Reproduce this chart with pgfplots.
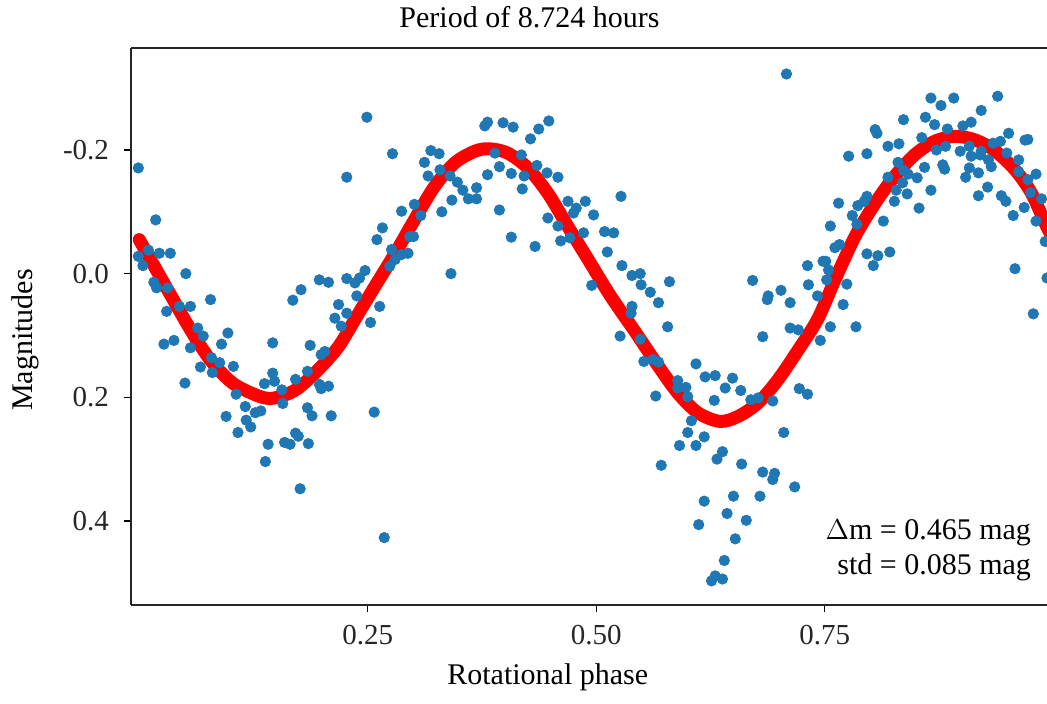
\documentclass[border=0pt]{standalone}
\usepackage{fontspec}
\setmainfont{Liberation Serif}
\usepackage{pgfplots}
\pgfplotsset{compat=1.18}
\usetikzlibrary{calc}
\definecolor{mplblue}{HTML}{1F77B4}
\pgfplotstableread{
x y
-0.001 -0.171
0.018 -0.087
0.227 -0.156
0.249 -0.253
-0.001 -0.028
0.004 -0.013
0.010 -0.038
0.022 -0.033
0.034 -0.033
0.051 0.000
0.016 0.014
0.019 0.023
0.031 0.023
0.030 0.061
0.044 0.053
0.056 0.053
0.078 0.042
0.064 0.088
0.097 0.096
0.168 0.043
0.177 0.026
0.197 0.010
0.207 0.014
0.227 0.008
0.236 0.015
0.241 0.007
0.247 -0.005
0.238 0.036
0.218 0.050
0.214 0.072
0.227 0.064
0.221 0.085
0.027 0.114
0.038 0.108
0.056 0.120
0.070 0.101
0.090 0.114
0.067 0.151
0.080 0.160
0.079 0.136
0.088 0.144
0.103 0.150
0.050 0.177
0.146 0.112
0.187 0.116
0.199 0.131
0.203 0.126
0.146 0.161
0.148 0.174
0.137 0.178
0.156 0.188
0.171 0.171
0.184 0.158
0.197 0.179
0.199 0.186
0.207 0.182
0.210 0.230
0.106 0.195
0.116 0.215
0.127 0.225
0.133 0.222
0.095 0.231
0.117 0.237
0.122 0.248
0.108 0.257
0.157 0.210
0.184 0.217
0.189 0.230
0.141 0.276
0.159 0.273
0.165 0.276
0.171 0.258
0.174 0.263
0.185 0.275
0.138 0.304
0.176 0.348
0.277 -0.194
0.319 -0.199
0.328 -0.194
0.312 -0.180
0.316 -0.158
0.329 -0.168
0.340 -0.158
0.348 -0.148
0.354 -0.135
0.360 -0.121
0.369 -0.121
0.369 -0.139
0.342 -0.119
0.331 -0.100
0.301 -0.112
0.308 -0.094
0.287 -0.101
0.266 -0.074
0.260 -0.055
0.296 -0.060
0.300 -0.060
0.294 -0.033
0.287 -0.031
0.276 -0.039
0.280 -0.023
0.274 -0.012
0.263 0.053
0.253 0.079
0.341 0.000
0.378 -0.239
0.381 -0.245
0.398 -0.244
0.409 -0.237
0.428 -0.218
0.437 -0.234
0.448 -0.247
0.389 -0.195
0.418 -0.192
0.381 -0.160
0.394 -0.173
0.407 -0.162
0.421 -0.158
0.419 -0.137
0.435 -0.175
0.446 -0.163
0.458 -0.156
0.394 -0.103
0.407 -0.059
0.433 -0.044
0.447 -0.090
0.458 -0.077
0.461 -0.053
0.471 -0.058
0.469 -0.117
0.478 -0.106
0.475 -0.098
0.488 -0.117
0.497 -0.095
0.486 -0.066
0.495 0.019
0.257 0.224
0.268 0.427
0.708 -0.323
0.527 -0.125
0.509 -0.068
0.519 -0.066
0.512 -0.035
0.528 -0.013
0.539 0.003
0.548 0.000
0.549 0.018
0.559 0.030
0.568 0.047
0.580 0.013
0.539 0.053
0.538 0.064
0.578 0.086
0.671 0.011
0.688 0.036
0.702 0.027
0.712 0.047
0.731 -0.013
0.732 0.018
0.742 0.036
0.748 -0.020
0.712 0.088
0.721 0.091
0.526 0.101
0.548 0.106
0.552 0.142
0.568 0.143
0.562 0.139
0.565 0.198
0.609 0.146
0.589 0.173
0.598 0.184
0.589 0.185
0.600 0.199
0.619 0.167
0.630 0.165
0.649 0.169
0.641 0.185
0.658 0.189
0.629 0.205
0.669 0.204
0.677 0.201
0.693 0.206
0.682 0.102
0.745 0.108
0.687 0.042
0.722 0.186
0.731 0.195
0.604 0.238
0.600 0.257
0.618 0.264
0.591 0.278
0.609 0.278
0.705 0.257
0.638 0.288
0.632 0.300
0.659 0.308
0.571 0.310
0.682 0.321
0.695 0.323
0.693 0.333
0.717 0.345
0.618 0.368
0.650 0.360
0.679 0.360
0.643 0.388
0.612 0.406
0.664 0.399
0.652 0.429
0.640 0.464
0.626 0.497
0.630 0.489
0.638 0.494
0.866 -0.284
0.877 -0.272
0.891 -0.284
0.939 -0.287
0.921 -0.264
0.836 -0.249
0.860 -0.253
0.870 -0.241
0.901 -0.239
0.910 -0.245
0.884 -0.234
0.951 -0.227
0.969 -0.216
0.972 -0.217
0.805 -0.233
0.807 -0.227
0.776 -0.190
0.796 -0.194
0.819 -0.206
0.831 -0.210
0.856 -0.220
0.872 -0.200
0.882 -0.206
0.898 -0.198
0.908 -0.206
0.921 -0.198
0.934 -0.211
0.942 -0.214
0.910 -0.190
0.920 -0.192
0.929 -0.184
0.932 -0.173
0.949 -0.195
0.962 -0.184
0.962 -0.165
0.972 -0.152
0.981 -0.161
0.928 -0.140
0.918 -0.126
0.918 -0.163
0.908 -0.171
0.904 -0.156
0.943 -0.126
0.948 -0.117
0.956 -0.094
0.968 -0.107
0.975 -0.131
0.987 -0.121
0.981 -0.085
0.991 -0.052
0.993 0.007
0.958 -0.008
0.978 0.065
0.879 -0.176
0.881 -0.169
0.859 -0.172
0.851 -0.155
0.866 -0.135
0.841 -0.161
0.840 -0.129
0.853 -0.106
0.830 -0.180
0.836 -0.167
0.819 -0.156
0.835 -0.147
0.828 -0.135
0.826 -0.117
0.814 -0.085
0.796 -0.125
0.786 -0.110
0.793 -0.117
0.765 -0.114
0.780 -0.094
0.785 -0.080
0.756 -0.077
0.761 -0.042
0.766 -0.047
0.796 -0.032
0.808 -0.029
0.803 -0.013
0.821 -0.035
0.751 -0.020
0.754 -0.006
0.752 0.010
0.774 0.017
0.770 0.050
0.756 0.086
0.784 0.086
}\pts
\pgfplotstableread{
x y
0.000 -0.055
0.028 0.018
0.057 0.093
0.079 0.142
0.104 0.179
0.137 0.201
0.156 0.198
0.174 0.185
0.196 0.155
0.218 0.118
0.238 0.069
0.258 0.020
0.280 -0.033
0.301 -0.087
0.323 -0.141
0.345 -0.179
0.367 -0.198
0.383 -0.202
0.403 -0.195
0.425 -0.171
0.447 -0.130
0.469 -0.076
0.491 -0.023
0.515 0.035
0.542 0.093
0.568 0.150
0.589 0.193
0.611 0.225
0.635 0.239
0.655 0.231
0.677 0.209
0.699 0.171
0.721 0.123
0.742 0.074
0.761 0.010
0.783 -0.060
0.805 -0.114
0.826 -0.157
0.848 -0.192
0.870 -0.214
0.892 -0.222
0.913 -0.217
0.935 -0.200
0.958 -0.168
0.976 -0.130
0.993 -0.075
1.000 -0.058
}\fit
\begin{document}
\begin{tikzpicture}
\begin{axis}[
  name=ax,
  at={(0pt,0pt)}, anchor=south west,
  scale only axis,
  width=458pt, height=278.5pt,
  xmin=-0.009, xmax=0.993,
  ymin=-0.365, ymax=0.536,
  y dir=reverse,
  axis x line*=box, axis y line*=left,
  axis line style={line width=0.9pt, draw=black!85},
  tick pos=left,
  tick align=outside,
  major tick length=3.5pt,
  every tick/.style={black, line width=0.6pt},
  xtick={0.25,0.5,0.75},
  xticklabels={0.25,0.50,0.75},
  ytick={-0.2,0,0.2,0.4},
  yticklabels={-0.2,0.0,0.2,0.4},
  ticklabel style={font=\fontsize{14.5}{17}\selectfont, text=black!85},
  xticklabel style={yshift=-3pt},
  yticklabel style={xshift=-4pt},
  clip=true,
]
\addplot[only marks, mark=*, mark size=2.6pt, mark options={fill=mplblue, draw=mplblue}] table[x=x,y=y] {\pts};
\addplot[red, line width=6.5pt, smooth, line cap=round] table[x=x,y=y] {\fit};
\end{axis}
\node[anchor=base, font=\fontsize{15}{18}\selectfont] at ($(ax.north west)!0.435!(ax.north east)+(0pt,10pt)$) {Period of 8.724 hours};
\node[anchor=base, font=\fontsize{15}{18}\selectfont] at ($(ax.south west)!0.455!(ax.south east)+(0pt,-40pt)$) {Rotational phase};
\node[rotate=90, anchor=center, font=\fontsize{15}{18}\selectfont] at ($(ax.south west)!0.476!(ax.north west)+(-53pt,0pt)$) {Magnitudes};
\node[anchor=base east, font=\fontsize{15}{18}\selectfont] at ($(ax.south east)+(-4.5pt,32.5pt)$) {$\Delta$m = 0.465 mag};
\node[anchor=base east, font=\fontsize{15}{18}\selectfont] at ($(ax.south east)+(-4.5pt,15pt)$) {std = 0.085 mag};
\pgfresetboundingbox
\path[use as bounding box] ($(ax.south west)+(-65.5pt,-49.5pt)$) rectangle ($(ax.north east)+(0pt,24pt)$);
\end{tikzpicture}
\end{document}
